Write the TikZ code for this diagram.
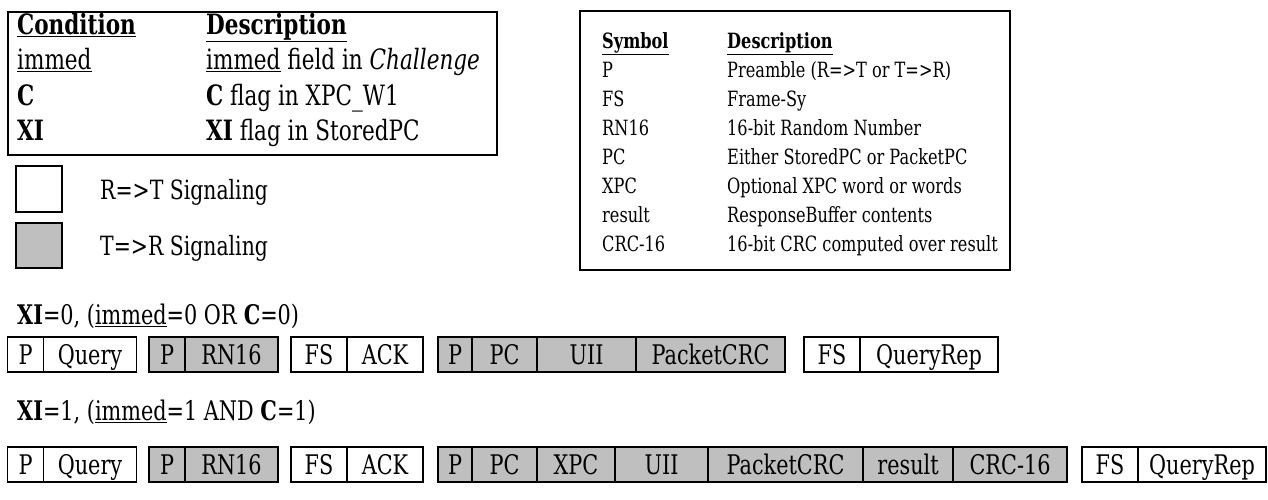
\documentclass[tikz,border=0pt]{standalone}
\usepackage{fontspec}
\setmainfont{DejaVu Serif}[FakeStretch=0.77]
\definecolor{tagfill}{RGB}{191,191,191}

\begin{document}
\begin{tikzpicture}[x=1pt,y=-1pt,
    big/.style={font=\fontsize{28}{34}\selectfont, inner sep=0pt, anchor=base west},
    txt/.style={font=\fontsize{21}{25}\selectfont, inner sep=0pt, anchor=base west},
    lgd/.style={font=\fontsize{26.5}{32}\selectfont, inner sep=0pt, anchor=base west},
    cond/.style={font=\fontsize{27}{32}\selectfont, inner sep=0pt, anchor=base west},
    cell/.style={draw, line width=1.8pt, minimum height=35pt, inner sep=0pt,
        text height=19pt, text depth=0pt, font=\fontsize{27}{32}\selectfont},
    tcell/.style={cell, fill=tagfill}]
    \useasboundingbox (0,0) rectangle (1268,499);

    % Condition table
    \draw[line width=2.2pt] (8,12) rectangle (497,155);
    \node[big] (cnd) at (17,34) {\textbf{\underline{Condition}}};
    \node[big] (cds) at (206,34) {\textbf{\underline{Description}}};
    \node[big] (imm) at (17,69) {\underline{immed}};
    \node[big] (immd) at (206,69) {\underline{immed} field in \textit{Challenge}};
    \node[big] (cfl) at (17,105) {\textbf{C}};
    \node[big] (cfld) at (206,105) {\textbf{C} flag in XPC\_W1};
    \node[big] (xi) at (17,140) {\textbf{XI}};
    \node[big] (xid) at (206,140) {\textbf{XI} flag in StoredPC};

    % Legend
    \draw[line width=1.8pt] (16,166) rectangle (62,212);
    \draw[line width=1.8pt, fill=tagfill] (16,223) rectangle (62,268);
    \node[lgd] (rt) at (100,199) {R=>T Signaling};
    \node[lgd] (tr) at (100,255) {T=>R Signaling};

    % Symbol table
    \draw[line width=2.2pt] (580,11) rectangle (1010,270);
    \node[txt] (sym) at (602,48.5) {\textbf{\underline{Symbol}}};
    \node[txt] (sds) at (727,48.5) {\textbf{\underline{Description}}};
    \node[txt] (sp) at (602,77.5) {P};
    \node[txt] (spd) at (727,77.5) {Preamble (R=>T or T=>R)};
    \node[txt] (sfs) at (602,106.5) {FS};
    \node[txt] (sfsd) at (727,106.5) {Frame-Sy};
    \node[txt] (srn) at (602,135.5) {RN16};
    \node[txt] (srnd) at (727,135.5) {16-bit Random Number};
    \node[txt] (spc) at (602,164.5) {PC};
    \node[txt] (spcd) at (727,164.5) {Either StoredPC or PacketPC};
    \node[txt] (sxp) at (602,193.5) {XPC};
    \node[txt] (sxpd) at (727,193.5) {Optional XPC word or words};
    \node[txt] (sre) at (602,222.5) {result};
    \node[txt] (sred) at (727,222.5) {ResponseBuffer contents};
    \node[txt] (scr) at (602,251.5) {CRC-16};
    \node[txt] (scrd) at (727,251.5) {16-bit CRC computed over result};

    % XI=0 sequence
    \node[cond] (c0) at (17,324) {\textbf{XI}=0, (\underline{immed}=0 OR \textbf{C}=0)};
    \node[cell, minimum width=36pt] (a1) at (25.5,354.5) {P};
    \node[cell, minimum width=93pt] (b1) at (90,354.5) {Query};
    \node[tcell, minimum width=36pt] (c1) at (167,354.5) {P};
    \node[tcell, minimum width=93pt] (d1) at (231.5,354.5) {RN16};
    \node[cell, minimum width=56pt] (e1) at (319,354.5) {FS};
    \node[cell, minimum width=76pt] (f1) at (385,354.5) {ACK};
    \node[tcell, minimum width=34pt] (g1) at (455,354.5) {P};
    \node[tcell, minimum width=65pt] (h1) at (504.5,354.5) {PC};
    \node[tcell, minimum width=99pt] (i1) at (586.5,354.5) {UII};
    \node[tcell, minimum width=149pt] (j1) at (710.5,354.5) {PacketCRC};
    \node[cell, minimum width=56pt] (k1) at (832,354.5) {FS};
    \node[cell, minimum width=138pt] (l1) at (929,354.5) {QueryRep};

    % XI=1 sequence
    \node[cond] (c1l) at (17,420) {\textbf{XI}=1, (\underline{immed}=1 AND \textbf{C}=1)};
    \node[cell, minimum width=36pt] (a2) at (25.5,464.5) {P};
    \node[cell, minimum width=93pt] (b2) at (90,464.5) {Query};
    \node[tcell, minimum width=36pt] (c2) at (167,464.5) {P};
    \node[tcell, minimum width=93pt] (d2) at (231.5,464.5) {RN16};
    \node[cell, minimum width=56pt] (e2) at (319,464.5) {FS};
    \node[cell, minimum width=76pt] (f2) at (385,464.5) {ACK};
    \node[tcell, minimum width=34pt] (g2) at (455,464.5) {P};
    \node[tcell, minimum width=65pt] (h2) at (504.5,464.5) {PC};
    \node[tcell, minimum width=78pt] (i2) at (576,464.5) {XPC};
    \node[tcell, minimum width=93pt] (j2) at (661.5,464.5) {UII};
    \node[tcell, minimum width=155pt] (k2) at (785.5,464.5) {PacketCRC};
    \node[tcell, minimum width=90pt] (l2) at (908,464.5) {result};
    \node[tcell, minimum width=114pt] (m2) at (1010,464.5) {CRC-16};
    \node[cell, minimum width=56pt] (n2) at (1110,464.5) {FS};
    \node[cell, minimum width=128pt] (o2) at (1202,464.5) {QueryRep};
\end{tikzpicture}
\end{document}
